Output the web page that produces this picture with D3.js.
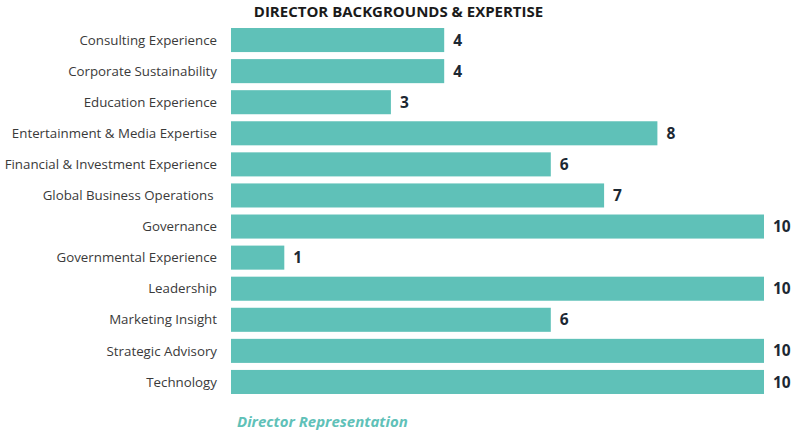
<!DOCTYPE html>
<html><head><meta charset="utf-8">
<script src="https://cdn.jsdelivr.net/npm/d3@7"></script>
<style>body{margin:0;background:#fff}svg{display:block}</style>
</head><body>
<svg id="c" width="800" height="435"></svg>
<script>
const categories = ["Consulting Experience","Corporate Sustainability","Education Experience","Entertainment & Media Expertise","Financial & Investment Experience","Global Business Operations ","Governance","Governmental Experience","Leadership","Marketing Insight","Strategic Advisory","Technology"];
const values = [4,4,3,8,6,7,10,1,10,6,10,10];
const title = "DIRECTOR BACKGROUNDS & EXPERTISE";
const axisTitle = "Director Representation";

const svg = d3.select("#c");
const font = "'Open Sans', sans-serif";
const x = d3.scaleLinear().domain([0,10]).range([231,764]);
const y = d3.scaleBand().domain(categories).range([24.5,397.5]).paddingInner(0.226).paddingOuter(0.113);

svg.append("text").attr("x",398.5).attr("y",17).attr("text-anchor","middle")
  .attr("font-family",font).attr("font-weight","bold").attr("font-size",15)
  .attr("fill","#1a1a1a").text(title);

svg.selectAll("rect.bar").data(categories).join("rect").attr("class","bar")
  .attr("x",x(0)).attr("y",d=>y(d)).attr("height",y.bandwidth())
  .attr("width",(d,i)=>x(values[i])-x(0)).attr("fill","#5fc1b8");

svg.selectAll("text.lab").data(categories).join("text").attr("class","lab")
  .attr("x",217).attr("y",d=>y(d)+y.bandwidth()/2).attr("dy","0.35em")
  .attr("text-anchor","end").attr("font-family",font).attr("font-size",13.3)
  .attr("fill","#3a3a3a").attr("xml:space","preserve").text(d=>d);

svg.selectAll("text.val").data(categories).join("text").attr("class","val")
  .attr("x",(d,i)=>x(values[i])+9).attr("y",d=>y(d)+y.bandwidth()/2).attr("dy","0.36em")
  .attr("font-family",font).attr("font-weight","bold").attr("font-size",15.5)
  .attr("fill","#1c2833").text((d,i)=>values[i]);

svg.append("text").attr("x",237).attr("y",427)
  .attr("font-family",font).attr("font-weight","bold").attr("font-style","italic").attr("font-size",15)
  .attr("fill","#5fc1b8").text(axisTitle);
</script>
</body></html>
